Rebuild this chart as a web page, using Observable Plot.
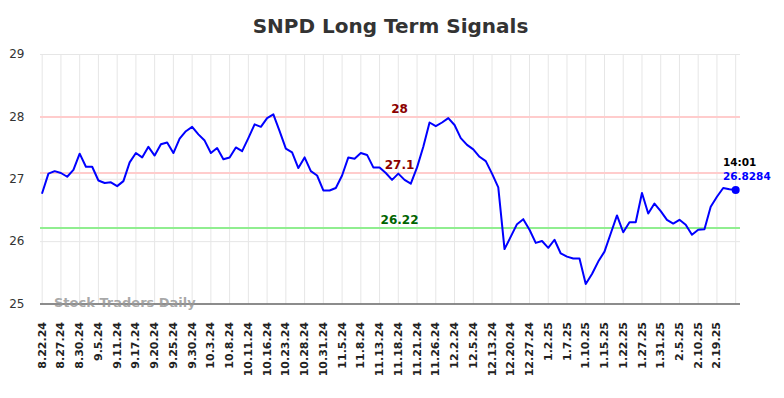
<!DOCTYPE html>
<html>
<head>
<meta charset="utf-8">
<script src="https://cdn.jsdelivr.net/npm/d3@7"></script>
<script src="https://cdn.jsdelivr.net/npm/@observablehq/plot@0.6"></script>
<style>
  html, body { margin: 0; padding: 0; background: #fff; }
  #chart svg { display: block; }
</style>
</head>
<body>
<div id="chart"></div>
<script>
const title = "SNPD Long Term Signals";
const watermark = "Stock Traders Daily";

// closing values, one per trading day (index-based x axis)
const values = [
  26.78, 27.09, 27.13, 27.10, 27.04, 27.15, 27.41, 27.20, 27.20, 26.98,
  26.94, 26.95, 26.89, 26.97, 27.27, 27.42, 27.35, 27.52, 27.38, 27.56,
  27.59, 27.42, 27.65, 27.77, 27.84, 27.72, 27.62, 27.42, 27.50, 27.32,
  27.35, 27.51, 27.45, 27.66, 27.88, 27.84, 27.98, 28.04, 27.77, 27.49,
  27.43, 27.18, 27.35, 27.13, 27.06, 26.82, 26.82, 26.86, 27.06, 27.35,
  27.33, 27.42, 27.39, 27.19, 27.19, 27.10, 26.99, 27.09, 26.99, 26.93,
  27.19, 27.52, 27.91, 27.85, 27.91, 27.98, 27.87, 27.66, 27.55, 27.48,
  27.36, 27.29, 27.09, 26.87, 25.88, 26.08, 26.28, 26.36, 26.19, 25.98,
  26.01, 25.90, 26.03, 25.81, 25.76, 25.73, 25.73, 25.32, 25.48, 25.68,
  25.84, 26.13, 26.42, 26.15, 26.31, 26.31, 26.78, 26.45, 26.61, 26.49,
  26.35, 26.29, 26.35, 26.27, 26.11, 26.19, 26.20, 26.56, 26.72, 26.86,
  26.84, 26.8284
];

// x tick labels, one every 3 trading days
const tickLabels = [
  "8.22.24", "8.27.24", "8.30.24", "9.5.24", "9.11.24", "9.17.24", "9.20.24",
  "9.25.24", "9.30.24", "10.3.24", "10.8.24", "10.11.24", "10.16.24", "10.23.24",
  "10.28.24", "10.31.24", "11.5.24", "11.8.24", "11.13.24", "11.18.24", "11.21.24",
  "11.26.24", "12.2.24", "12.5.24", "12.13.24", "12.20.24", "12.27.24", "1.2.25",
  "1.7.25", "1.10.25", "1.15.25", "1.22.25", "1.27.25", "1.31.25", "2.5.25",
  "2.10.25", "2.19.25"
];
const tickStep = 3;

const yTicks = [25, 26, 27, 28, 29];

const levels = [28, 27.1, 26.22];
const levelLabels = ["28", "27.1", "26.22"];
const levelLineColors = ["#ffcccc", "#ffcccc", "#90ee90"];
const levelTextColors = ["#8b0000", "#8b0000", "#006400"];
const levelLabelIndex = 57.2;

const lastTime = "14:01";
const lastValue = 26.8284;

// derived tables
const series = values.map((v, i) => ({i, v}));
const ticks = tickLabels.map((t, k) => ({i: k * tickStep, t}));
const gridX = d3.range(0, values.length, tickStep);
const levelRows = levels.map((v, k) => ({v, label: levelLabels[k], line: levelLineColors[k], text: levelTextColors[k]}));
const last = {i: values.length - 1, v: lastValue};

const chart = Plot.plot({
  width: 784,
  height: 398,
  marginLeft: 40,
  marginRight: 44,
  marginTop: 54,
  marginBottom: 94.5,
  style: {fontFamily: "DejaVu Sans", background: "#fff"},
  x: {domain: [-0.27, 111.77], axis: null},
  y: {domain: [25, 29], axis: null},
  marks: [
    Plot.ruleX(gridX, {x: d => d, stroke: "#e6e6e6", strokeWidth: 1}),
    Plot.ruleY(yTicks.filter(d => d !== 25), {y: d => d, stroke: "#e6e6e6", strokeWidth: 1}),
    Plot.ruleY(levelRows, {y: "v", stroke: "line", strokeWidth: 2}),
    Plot.ruleY([25], {stroke: "#666", strokeWidth: 1.5}),
    Plot.text([watermark], {frameAnchor: "bottom-left", dx: 13.5, dy: -1, textAnchor: "start", lineAnchor: "middle", fontSize: 13, fontWeight: "bold", fill: "#999", fillOpacity: 0.85}),
    Plot.line(series, {x: "i", y: "v", stroke: "#0000ff", strokeWidth: 2, curve: "linear"}),
    Plot.dot([last], {x: "i", y: "v", r: 4, fill: "#0000ff"}),
    Plot.text(levelRows, {x: levelLabelIndex, y: "v", text: "label", fill: "text", fontWeight: "bold", fontSize: 12, textAnchor: "middle", lineAnchor: "middle", dy: -8}),
    Plot.text([last], {x: "i", y: "v", text: () => lastTime, fill: "#000", fontWeight: "bold", fontSize: 10.5, textAnchor: "start", lineAnchor: "middle", dx: -12.8, dy: -27}),
    Plot.text([last], {x: "i", y: "v", text: d => String(d.v), fill: "#0000ff", fontWeight: "bold", fontSize: 10.5, textAnchor: "start", lineAnchor: "middle", dx: -12.8, dy: -13}),
    Plot.text(yTicks, {y: d => d, text: d => String(d), frameAnchor: "left", dx: -16, textAnchor: "end", lineAnchor: "middle", fontSize: 12, fill: "#333"}),
    Plot.text(ticks, {x: "i", y: 25, text: "t", rotate: -90, textAnchor: "end", lineAnchor: "middle", dy: 18, fontSize: 11, fontWeight: "bold", fill: "#222"}),
    Plot.text([title], {frameAnchor: "top", dy: -28, textAnchor: "middle", lineAnchor: "middle", fontSize: 20, fontWeight: "bold", fill: "#333"})
  ]
});
document.getElementById("chart").appendChild(chart);
</script>
</body>
</html>
